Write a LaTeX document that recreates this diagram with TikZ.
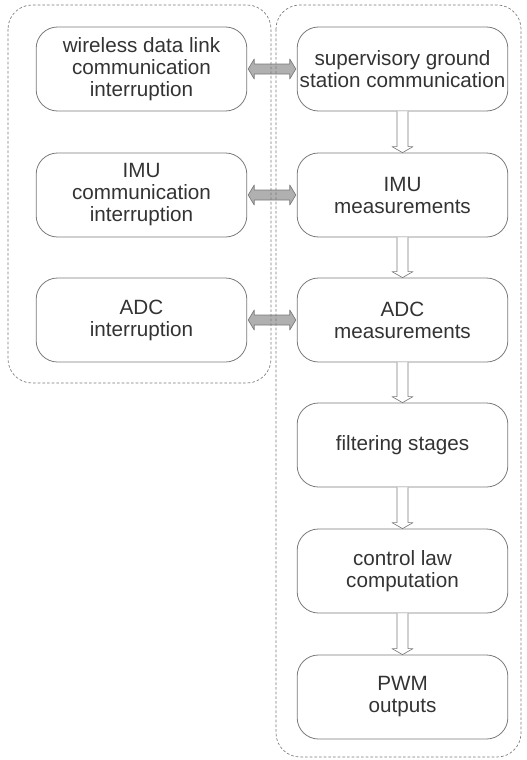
\documentclass[tikz,border=0pt]{standalone}
\usepackage{fontspec}
\setmainfont{Liberation Sans}
\usetikzlibrary{calc}
\definecolor{edge}{HTML}{7A7A7A}
\definecolor{txt}{HTML}{333333}
\definecolor{arrfill}{HTML}{B0B0B0}
\tikzset{
  box/.style={draw=edge, line width=0.6pt, rounded corners=16pt, minimum width=158pt, minimum height=63pt, align=center, font=\fontsize{15.5}{16.5}\selectfont, text=txt, inner sep=0pt},
  cont/.style={draw=edge, line width=0.5pt, dash pattern=on 2pt off 1.5pt, rounded corners=18pt},
  dblarr/.style={draw=edge, line width=0.5pt, fill=arrfill, line join=round},
  downarr/.style={draw=edge, line width=0.5pt, fill=white, line join=round}
}
\begin{document}
\begin{tikzpicture}[x=0.75pt,y=-0.75pt]
\useasboundingbox (0,0) rectangle (526,760);
\node[box] (l1) at (141.5,69) {wireless data link\\communication\\interruption};
\node[box] (l2) at (141.5,195) {IMU\\communication\\interruption};
\node[box] (l3) at (141.5,320) {ADC\\interruption};
\node[box] (r1) at (402.5,69) {supervisory ground\\station communication};
\node[box] (r2) at (402.5,195) {IMU\\measurements};
\node[box] (r3) at (402.5,320) {ADC\\measurements};
\node[box] (r4) at (402.5,445) {filtering stages};
\node[box] (r5) at (402.5,571) {control law\\computation};
\node[box] (r6) at (402.5,697) {PWM\\outputs};
\foreach \a/\b in {l1/r1,l2/r2,l3/r3}{
  \draw[dblarr] ($(\a.east)+(1,0)$) -- ($(\a.east)+(7,-10)$) -- ($(\a.east)+(7,-5)$)
     -- ($(\b.west)+(-7,-5)$) -- ($(\b.west)+(-7,-10)$) -- ($(\b.west)+(-1,0)$)
     -- ($(\b.west)+(-7,10)$) -- ($(\b.west)+(-7,5)$) -- ($(\a.east)+(7,5)$)
     -- ($(\a.east)+(7,10)$) -- cycle;
}
\foreach \a/\b in {r1/r2,r2/r3,r3/r4,r4/r5,r5/r6}{
  \draw[downarr] ($(\a.south)+(-5.5,0)$) -- ($(\b.north)+(-5.5,-6)$) -- ($(\b.north)+(-10.5,-6)$)
     -- ($(\b.north)+(0,0)$) -- ($(\b.north)+(10.5,-6)$) -- ($(\b.north)+(5.5,-6)$)
     -- ($(\a.south)+(5.5,0)$);
}
\draw[cont] (8,5) rectangle (271,383);
\draw[cont] (276,5) rectangle (521,757);
\end{tikzpicture}
\end{document}
